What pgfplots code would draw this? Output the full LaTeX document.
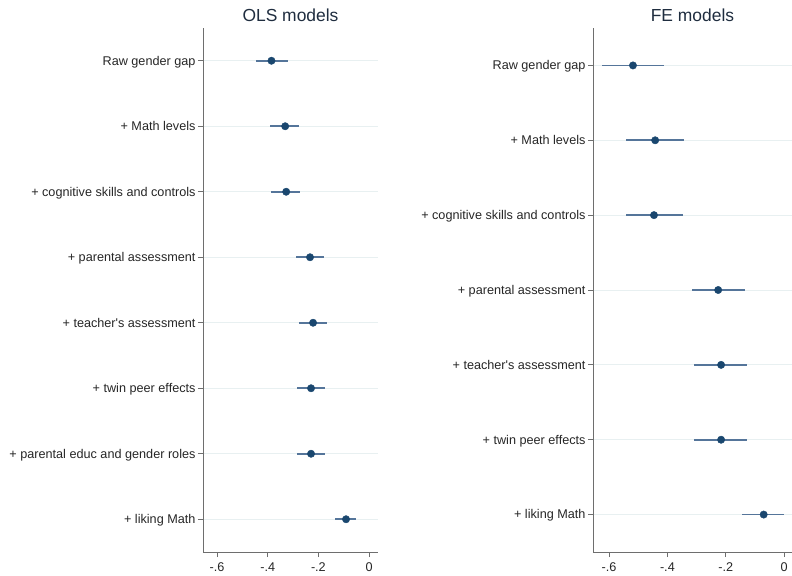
\documentclass[border=0pt]{standalone}
\usepackage{pgfplots}
\pgfplotsset{compat=1.18}
\usepackage{pgfplotstable}
\usepackage{fontspec}
\setmainfont{Liberation Sans}[Ligatures=TeXOff]
\definecolor{navy}{HTML}{1A476F}
\definecolor{cil}{HTML}{55759A}
\definecolor{gridc}{HTML}{E8F0F1}
\definecolor{titc}{HTML}{1F2D3F}
\definecolor{axc}{HTML}{6E6E6E}

\pgfplotstableread{
y b em ep
1 -0.385 0.060 0.067
2 -0.331 0.059 0.055
3 -0.327 0.060 0.055
4 -0.233 0.055 0.055
5 -0.221 0.055 0.055
6 -0.229 0.055 0.055
7 -0.229 0.055 0.055
8 -0.091 0.043 0.040
}\ols
\pgfplotstableread{
y b em ep
1 -0.518 0.105 0.106
2 -0.442 0.100 0.099
3 -0.446 0.096 0.100
4 -0.226 0.089 0.092
5 -0.216 0.093 0.089
6 -0.216 0.093 0.089
7 -0.070 0.076 0.070
}\fe

\pgfplotsset{coef/.style={
  scale only axis,
  axis x line*=bottom, axis y line*=left,
  axis line style={axc, line width=0.8pt},
  y dir=reverse,
  xtick={-0.6,-0.4,-0.2,0},
  xticklabels={-.6,-.4,-.2,0},
  xtick pos=bottom, ytick pos=left,
  tick align=outside,
  major tick length=5bp,
  tick style={axc, line width=0.8pt},
  ymajorgrids,
  grid style={gridc, line width=1pt},
  tick label style={font=\fontsize{12.7}{14}\selectfont, text=black!85},
  xticklabel style={yshift=-2bp},
  yticklabel style={anchor=base east, yshift=-4.4bp, xshift=1bp},
  clip=false,
}}

\begin{document}
\begin{tikzpicture}
\useasboundingbox (0,0) rectangle (792bp,576bp);
\begin{axis}[coef,
  at={(203bp,24bp)}, anchor=south west,
  width=175bp, height=524bp,
  xmin=-0.655, xmax=0.035, ymin=0.5, ymax=8.5,
  ytick={1,...,8},
  yticklabels={Raw gender gap,+ Math levels,+ cognitive skills and controls,+ parental assessment,+ teacher's assessment,+ twin peer effects,+ parental educ and gender roles,+ liking Math},
]
\addplot[only marks, mark=*, mark size=3.7bp, color=navy,
  error bars/.cd, x dir=both, x explicit, error mark=none,
  error bar style={cil, line width=1.6bp}]
  table[x=b, y=y, x error minus=em, x error plus=ep]{\ols};
\node[anchor=south, font=\fontsize{17.5}{20}\selectfont, text=titc] at (rel axis cs:0.5,1) [yshift=3bp] {OLS models};
\end{axis}
\begin{axis}[coef,
  at={(593bp,24bp)}, anchor=south west,
  width=199bp, height=524bp,
  xmin=-0.655, xmax=0.027, ymin=0.5, ymax=7.5,
  ytick={1,...,7},
  yticklabels={Raw gender gap,+ Math levels,+ cognitive skills and controls,+ parental assessment,+ teacher's assessment,+ twin peer effects,+ liking Math},
]
\addplot[only marks, mark=*, mark size=3.7bp, color=navy,
  error bars/.cd, x dir=both, x explicit, error mark=none,
  error bar style={cil, line width=1.6bp}]
  table[x=b, y=y, x error minus=em, x error plus=ep]{\fe};
\node[anchor=south, font=\fontsize{17.5}{20}\selectfont, text=titc] at (rel axis cs:0.5,1) [yshift=3bp] {FE models};
\end{axis}
\end{tikzpicture}
\end{document}
